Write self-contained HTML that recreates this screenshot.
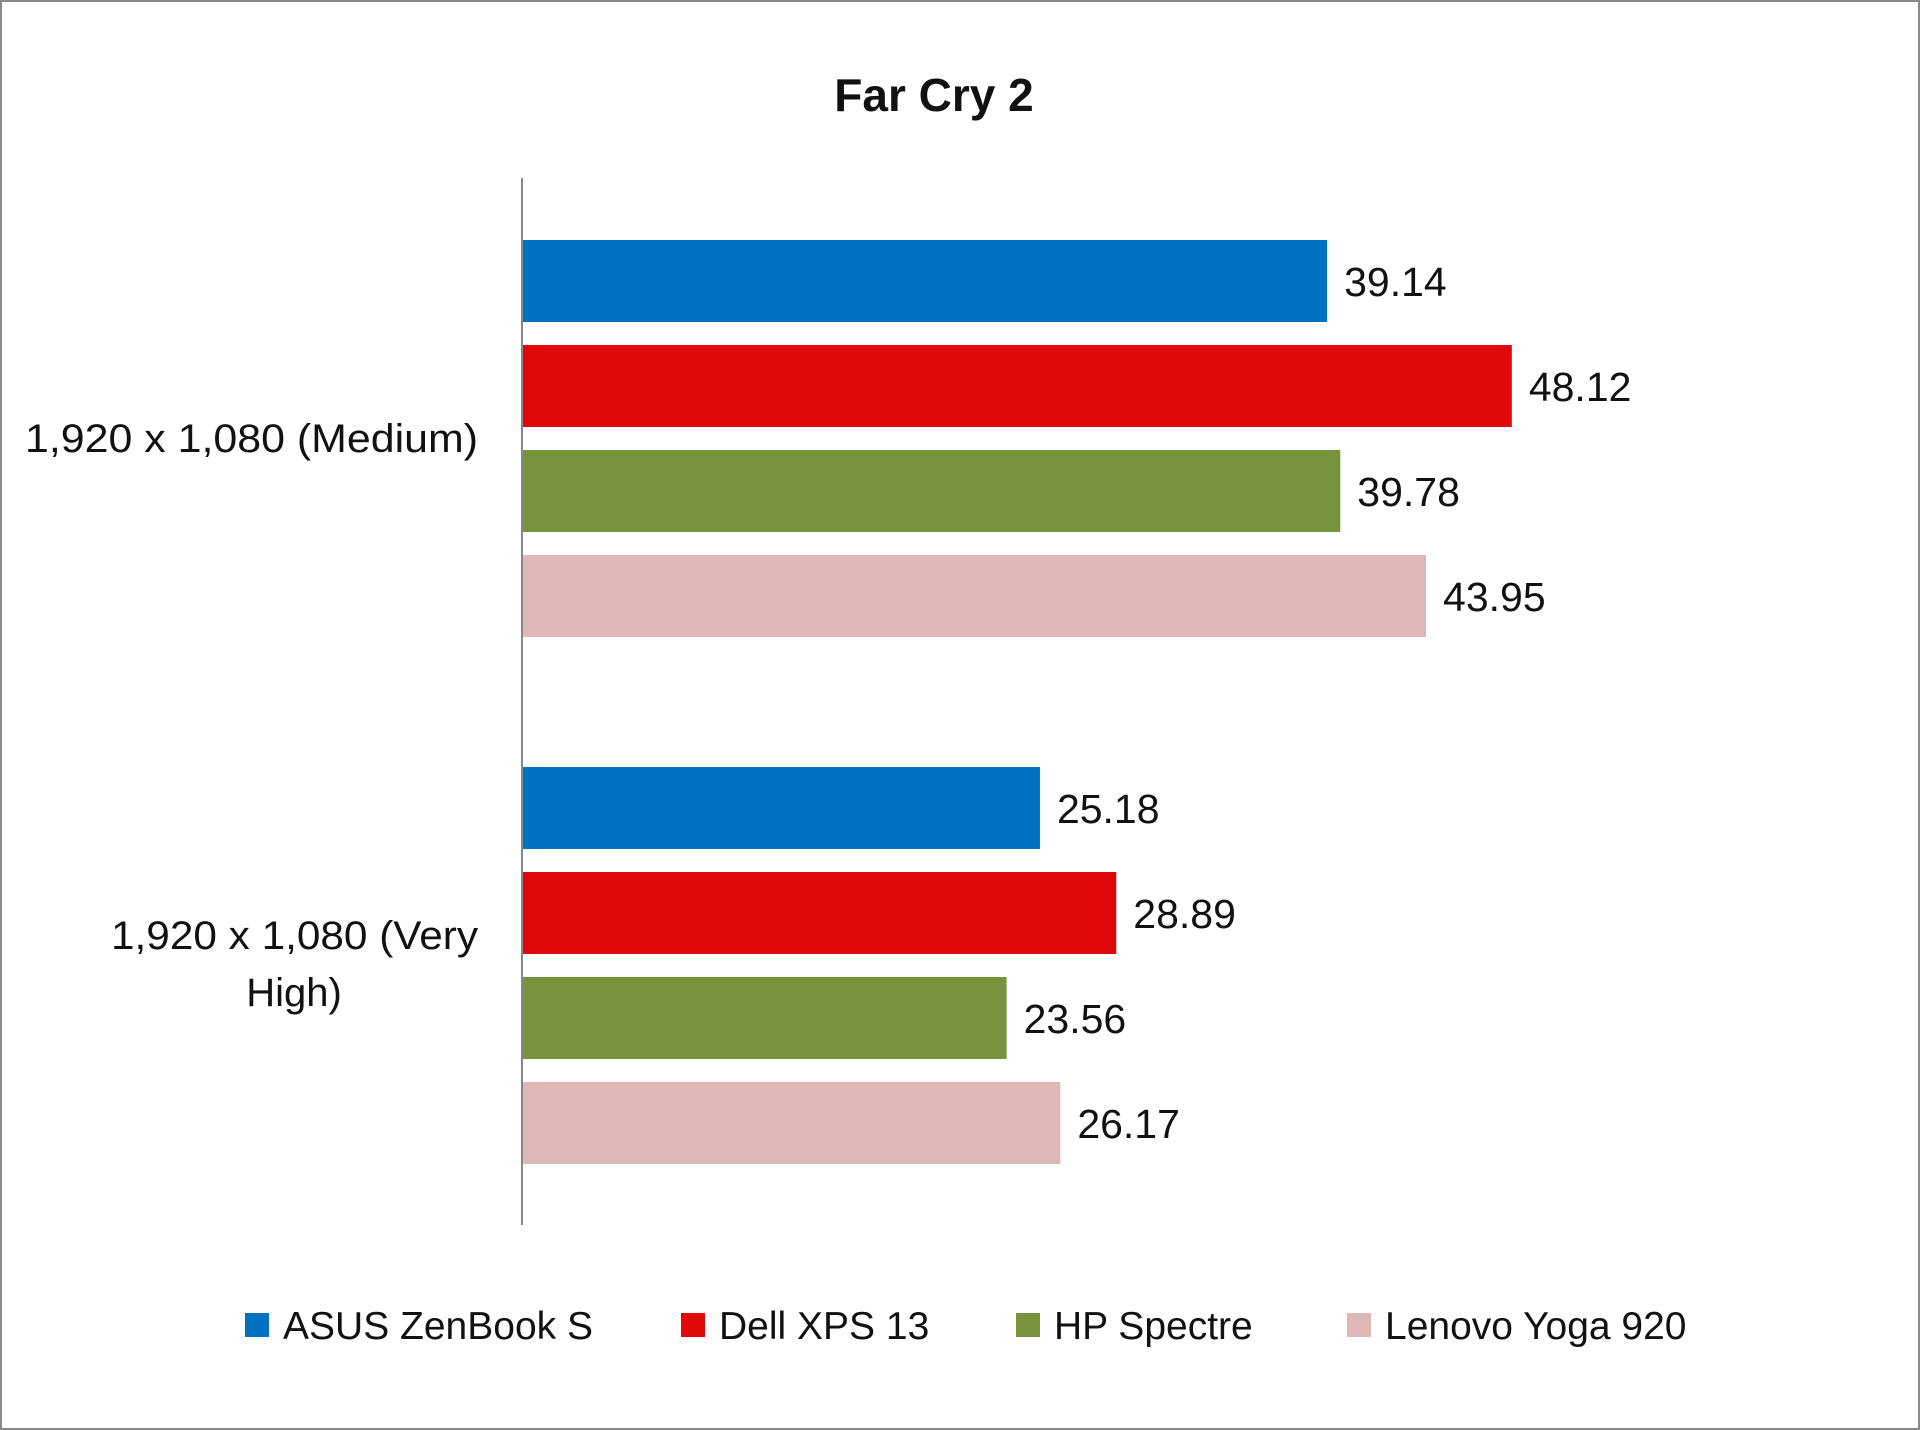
<!DOCTYPE html>
<html><head><meta charset="utf-8"><style>
html,body{margin:0;padding:0;background:#fff}
svg{display:block}
text{font-family:"Liberation Sans",sans-serif;fill:#111}
</style></head><body>
<svg id="chart" width="1920" height="1430" viewBox="0 0 1920 1430">
<rect x="1" y="1" width="1918" height="1428" fill="#fff" stroke="#8a8a8a" stroke-width="2"/>
<text x="934" y="111" font-size="46" font-weight="bold" text-anchor="middle">Far Cry 2</text>
<g id="bars"></g>
<line x1="522" y1="178" x2="522" y2="1225" stroke="#888" stroke-width="2"/>
<text x="25" y="452" font-size="40" textLength="453" lengthAdjust="spacingAndGlyphs">1,920 x 1,080 (Medium)</text>
<text x="111" y="949" font-size="40" textLength="367" lengthAdjust="spacingAndGlyphs">1,920 x 1,080 (Very</text>
<text x="294" y="1006" font-size="40" text-anchor="middle">High)</text>
<g id="legend"></g>
</svg>
<script>
const categories = ["1,920 x 1,080 (Medium)", "1,920 x 1,080 (Very High)"];
const seriesNames = ["ASUS ZenBook S", "Dell XPS 13", "HP Spectre", "Lenovo Yoga 920"];
const asusValues = [39.14, 25.18];
const dellValues = [48.12, 28.89];
const hpValues = [39.78, 23.56];
const lenovoValues = [43.95, 26.17];
const colors = ["#0070c0", "#e00808", "#77933c", "#deb7b7"];
const allSeries = [asusValues, dellValues, hpValues, lenovoValues];

const NS = "http://www.w3.org/2000/svg";
const x0 = 522, pxPerUnit = 20.57;
function xScale(v){ return x0 + v * pxPerUnit; }
const groupTop = [240, 767], barStep = 105, barH = 82;
function yBar(c, s){ return groupTop[c] + s * barStep; }

const barsG = document.getElementById('bars');
categories.forEach((cat, c) => {
  allSeries.forEach((vals, s) => {
    const v = vals[c];
    const r = document.createElementNS(NS, 'rect');
    r.setAttribute('x', x0);
    r.setAttribute('y', yBar(c, s));
    r.setAttribute('width', xScale(v) - x0);
    r.setAttribute('height', barH);
    r.setAttribute('fill', colors[s]);
    
    
    barsG.appendChild(r);
    const t = document.createElementNS(NS, 'text');
    t.setAttribute('x', xScale(v) + 17);
    t.setAttribute('y', yBar(c, s) + barH / 2 + 15);
    t.setAttribute('font-size', '41');
    t.textContent = v.toFixed(2);
    
    
    barsG.appendChild(t);
  });
});

const legendG = document.getElementById('legend');
const legendX = [245, 681, 1016, 1347];
seriesNames.forEach((name, i) => {
  const g = document.createElementNS(NS, 'g');
  
  
  const sq = document.createElementNS(NS, 'rect');
  sq.setAttribute('x', legendX[i]);
  sq.setAttribute('y', 1313);
  sq.setAttribute('width', 24);
  sq.setAttribute('height', 24);
  sq.setAttribute('fill', colors[i]);
  
  
  g.appendChild(sq);
  const t = document.createElementNS(NS, 'text');
  t.setAttribute('x', legendX[i] + 38);
  t.setAttribute('y', 1339);
  t.setAttribute('font-size', '39');
  t.textContent = name;
  
  
  g.appendChild(t);
  legendG.appendChild(g);
});
</script>
</body></html>
